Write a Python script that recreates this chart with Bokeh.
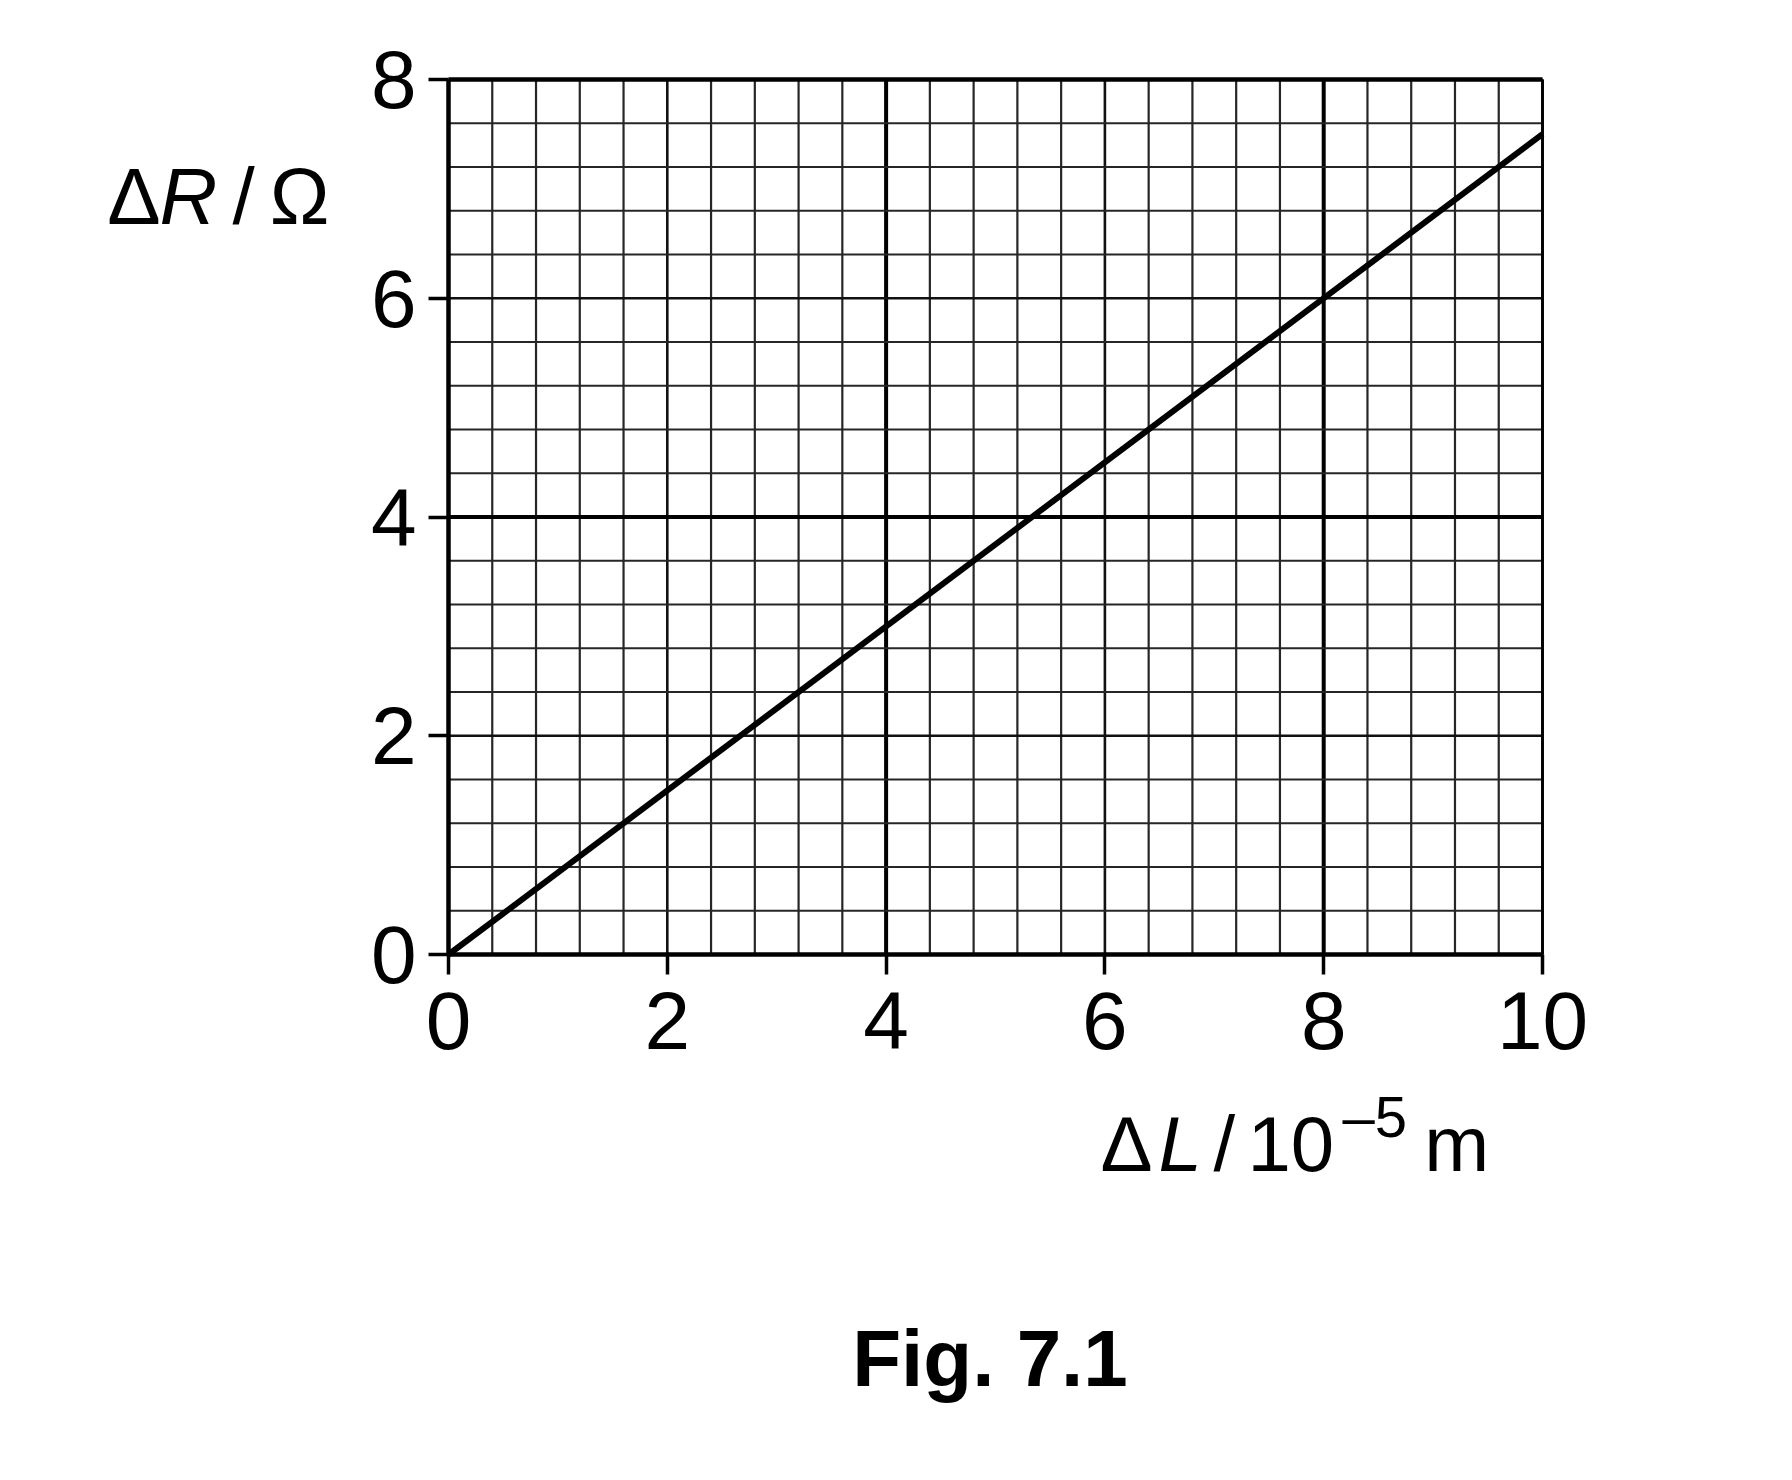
import numpy as np
from bokeh.plotting import figure
from bokeh.models import Range1d, FixedTicker, Label, LinearAxis
from bokeh.embed import file_html
from bokeh.resources import INLINE

# ---- data ----
dL = [0, 10]          # ΔL / 10^-5 m
dR = [0, 7.5]         # ΔR / Ω
x_ticks = [0, 2, 4, 6, 8, 10]
y_ticks = [0, 2, 4, 6, 8]
x_tick_labels = {0: "0", 2: "2", 4: "4", 6: "6", 8: "8", 10: "10"}
y_tick_labels = {0: "0", 2: "2", 4: "4", 6: "6", 8: "8"}
x_lim = (0, 10)
y_lim = (0, 8)
minor_step = 0.4

FONT = "Liberation Sans"
FS = "82px"

W, H = 1780, 1470
PX_X = 109.4      # pixels per x unit
PX_Y = 109.375    # pixels per y unit
LEFT, TOP = 448, 79

p = figure(width=W, height=H, min_border=0,
           x_range=Range1d(-LEFT / PX_X, (W - LEFT) / PX_X),
           y_range=Range1d(y_lim[1] - (H - TOP) / PX_Y, y_lim[1] + TOP / PX_Y),
           x_axis_location=None, y_axis_location=None,
           output_backend="svg", toolbar_location=None,
           background_fill_color="white", border_fill_color="white")
p.xgrid.visible = False
p.ygrid.visible = False
p.outline_line_color = None

# ---- graph-paper grid ----
gx = np.round(np.arange(x_lim[0], x_lim[1] + 1e-9, minor_step), 2)
gy = np.round(np.arange(y_lim[0], y_lim[1] + 1e-9, minor_step), 2)

def is_mult(v, m):
    return abs(v / m - round(v / m)) < 1e-6

def grid_style(v, heavy):
    if v in heavy:
        return 4.0, "black"
    if is_mult(v, 2):
        return 2.6, "#111111"
    return 2.2, "#262626"

heavy_x = [4.0, 8.0]
heavy_y = [4.0]
for v in gx:
    w, c = grid_style(float(v), heavy_x)
    p.segment(x0=[v], y0=[y_lim[0]], x1=[v], y1=[y_lim[1]], line_width=w, line_color=c)
for v in gy:
    w, c = grid_style(float(v), heavy_y)
    p.segment(x0=[x_lim[0]], y0=[v], x1=[x_lim[1]], y1=[v], line_width=w, line_color=c)

# ---- data line ----
p.line(dL, dR, line_color="black", line_width=6)

# ---- axes ----
def style_axis(ax, ticks, labels):
    ax.ticker = FixedTicker(ticks=ticks, minor_ticks=[])
    ax.major_label_overrides = labels
    ax.axis_line_width = 4.5
    ax.axis_line_color = "black"
    ax.major_tick_line_width = 3.5
    ax.major_tick_line_color = "black"
    ax.major_tick_out = 20
    ax.major_tick_in = 0
    ax.minor_tick_line_color = None
    ax.major_label_text_font = FONT
    ax.major_label_text_font_size = FS
    ax.major_label_text_color = "black"

xax = LinearAxis(fixed_location=y_lim[0], bounds=x_lim)
style_axis(xax, x_ticks, x_tick_labels)
xax.major_label_standoff = 17
p.add_layout(xax, "below")

yax = LinearAxis(fixed_location=x_lim[0], bounds=y_lim)
style_axis(yax, y_ticks, y_tick_labels)
yax.major_label_standoff = 12
p.add_layout(yax, "left")

for loc, fixed, bnd, lw in (("above", y_lim[1], x_lim, 4.5), ("right", x_lim[1], y_lim, 2.8)):
    ax = LinearAxis(fixed_location=fixed, bounds=bnd)
    ax.ticker = FixedTicker(ticks=[], minor_ticks=[])
    ax.axis_line_width = lw
    ax.axis_line_color = "black"
    ax.major_tick_line_color = None
    ax.minor_tick_line_color = None
    ax.major_label_text_font_size = "0px"
    p.add_layout(ax, loc)

def lab(x, y, text, size="80px", style="normal", align="left"):
    p.add_layout(Label(x=x, y=y, text=text, text_font=FONT, text_font_size=size,
                       text_font_style=style, text_align=align,
                       text_baseline="alphabetic", text_color="black"))

SHIFT = 0.265

# y-axis label  ΔR / Ω
yb = 6.665 + SHIFT
lab(-3.12, yb, "Δ")
lab(-2.642, yb, "R", style="italic")
lab(-1.974, yb, "/")
lab(-1.635, yb, "Ω")

# x-axis label  ΔL / 10^-5 m
xb = -2.002 + SHIFT
lab(5.96, xb, "Δ", size="78px")
lab(6.490, xb, "L", size="78px", style="italic")
lab(6.993, xb, "/", size="78px")
lab(7.303, xb, "10", size="78px")
lab(8.172, -1.746 + SHIFT, "–5", size="58px")
lab(8.92, xb, "m", size="78px")

# caption
lab(4.95, -3.959 + SHIFT, "Fig. 7.1", size="80px", style="bold", align="center")

open("out.html", "w").write(file_html(p, INLINE))
